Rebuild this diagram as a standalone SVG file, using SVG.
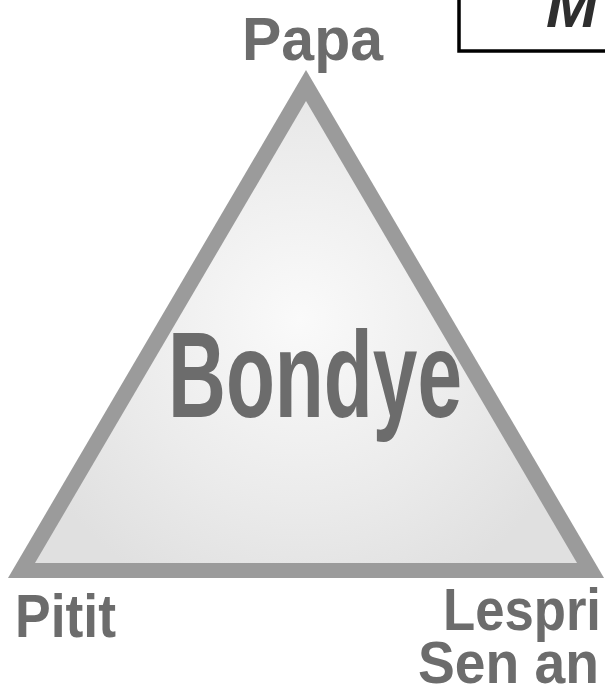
<svg xmlns="http://www.w3.org/2000/svg" width="605" height="694" viewBox="0 0 605 694">
  <style>
    .lbl { font-family: "Liberation Sans", Arial, sans-serif; font-weight: bold; fill: #6c6c6c; }
  </style>
  <defs>
    <radialGradient id="fillGrad" cx="300" cy="320" r="300" gradientUnits="userSpaceOnUse">
      <stop offset="0" stop-color="#fafafa"/>
      <stop offset="0.6" stop-color="#ebebeb"/>
      <stop offset="1" stop-color="#e0e0e0"/>
    </radialGradient>
  </defs>
  <rect width="605" height="694" fill="#ffffff"/>
  <g id="title-box">
    <rect x="459" y="-10" width="160" height="61" fill="#ffffff" stroke="#000000" stroke-width="3.5"/>
    <text x="546" y="27" font-family="Liberation Sans, Arial, sans-serif" font-weight="bold" font-style="italic" font-size="62" fill="#2e2e2e">M</text>
  </g>
  <g id="triangle">
    <polygon points="306,70 8,578 604,578" fill="#9b9b9b"/>
    <polygon points="306,101 35,563 577,563" fill="url(#fillGrad)"/>
  </g>
  <g id="node-bondye">
    <text class="lbl" x="168" y="417" font-size="122" textLength="294" lengthAdjust="spacingAndGlyphs">Bondye</text>
  </g>
  <g id="node-papa">
    <text class="lbl" x="242" y="60" font-size="62" textLength="141" lengthAdjust="spacingAndGlyphs">Papa</text>
  </g>
  <g id="node-pitit">
    <text class="lbl" x="15" y="637" font-size="62" textLength="101" lengthAdjust="spacingAndGlyphs">Pitit</text>
  </g>
  <g id="node-lespri">
    <text class="lbl" x="443" y="630" font-size="60" textLength="158" lengthAdjust="spacingAndGlyphs">Lespri</text>
    <text class="lbl" x="418" y="683" font-size="60" textLength="181" lengthAdjust="spacingAndGlyphs">Sen an</text>
  </g>
  <g id="connectors"></g>
</svg>
